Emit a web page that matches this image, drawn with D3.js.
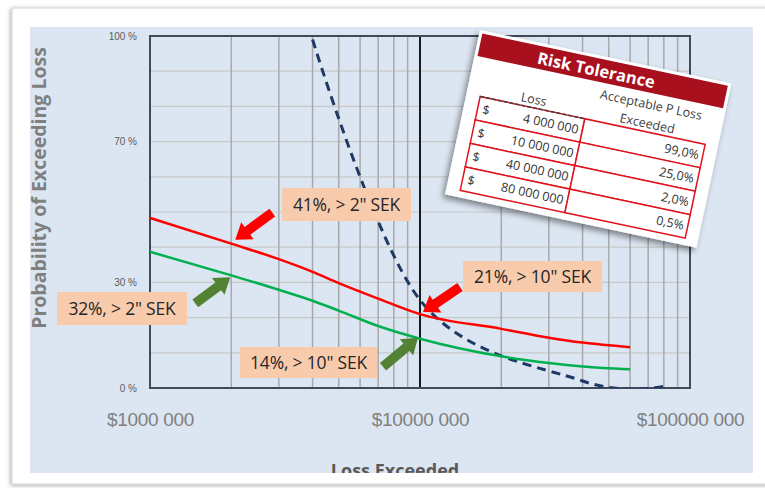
<!DOCTYPE html>
<html>
<head>
<meta charset="utf-8">
<script src="https://cdn.jsdelivr.net/npm/d3@7"></script>
<style>
  html, body { margin: 0; padding: 0; background: #ffffff; }
  svg { display: block; font-family: "Open Sans", "Liberation Sans", sans-serif; }
</style>
</head>
<body>
<script>
// ---- Data -------------------------------------------------------------
// Loss levels (SEK) at which the two exceedance curves are sampled
const lossLevels = [1e6, 2e6, 3e6, 4e6, 5e6, 7e6, 1e7, 2e7, 3e7, 4e7, 6e7];
// Probability of exceeding each loss level (%)
const redProb   = [48.3, 41, 36.6, 33, 29.8, 25.4, 21, 16.8, 14.3, 12.9, 11.6];
const greenProb = [38.7, 32, 27.9, 24.8, 22.0, 17.6, 14, 9.0, 7.1, 6.1, 5.3];

// Risk tolerance curve (table values)
const toleranceLoss = [4e6, 1e7, 4e7, 8e7];
const toleranceProb = [99, 25, 2, 0.5];

// Axis ticks
const xTickValues = [1e6, 1e7, 1e8];
const yTickValues = [0, 30, 70, 100];
const yGridValues = [0, 10, 20, 30, 40, 50, 60, 70, 80, 90, 100];

// Callouts: which series and loss level each one describes
const calloutSeries = ["red", "green", "red", "green"];
const calloutLoss   = [2e6, 2e6, 1e7, 1e7];

// ---- Layout -----------------------------------------------------------
const W = 765, H = 488;
const plot = { left: 150, right: 690, top: 36, bottom: 388 };
const colors = {
  panel: "#dce6f2", red: "#ff0000", green: "#00b050", navy: "#1f3864",
  arrowRed: "#ff0000", arrowGreen: "#548235", box: "#f8cbad",
  grid: "#a9a9a9", hgrid: "#c8c8c8", frame: "#3f4a5a"
};
// Callout boxes [x, y, w, h] and arrow tail vectors, in the same order as calloutSeries
const calloutBoxes = [[282, 188, 129, 33], [57, 292, 130, 33], [463, 261, 139, 31], [240, 347, 137, 31]];
const arrowTipNudge = [[4, -4], [-1, 2], [3, -2], [-2, -1]];
const arrowTail = [[37, -27], [-35, 26], [37, -25], [-35, 29]];

const svg = d3.select("body").append("svg").attr("width", W).attr("height", H);
const defs = svg.append("defs");

const frameShadow = defs.append("filter").attr("id", "frameShadow")
  .attr("x", "-5%").attr("y", "-5%").attr("width", "110%").attr("height", "110%");
frameShadow.append("feDropShadow").attr("dx", -1).attr("dy", 1).attr("stdDeviation", 2)
  .attr("flood-color", "#000").attr("flood-opacity", 0.35);

const cardShadow = defs.append("filter").attr("id", "cardShadow")
  .attr("x", "-10%").attr("y", "-10%").attr("width", "120%").attr("height", "125%");
cardShadow.append("feDropShadow").attr("dx", -2).attr("dy", 4).attr("stdDeviation", 3)
  .attr("flood-color", "#000").attr("flood-opacity", 0.45);

defs.append("clipPath").attr("id", "plotClip").append("rect")
  .attr("x", plot.left).attr("y", plot.top)
  .attr("width", plot.right - plot.left).attr("height", plot.bottom - plot.top);
defs.append("clipPath").attr("id", "panelClip").append("rect")
  .attr("x", 30).attr("y", 27).attr("width", 723).attr("height", 446);

// Outer white frame and light-blue chart panel
svg.append("rect").attr("x", 12).attr("y", 8).attr("width", 770).attr("height", 476)
  .attr("fill", "#ffffff").attr("stroke", "#d4d4d4").attr("filter", "url(#frameShadow)");
svg.append("rect").attr("x", 30).attr("y", 27).attr("width", 723).attr("height", 446)
  .attr("fill", colors.panel);

// ---- Scales -----------------------------------------------------------
const x = d3.scaleLog().domain([1e6, 1e8]).range([plot.left, plot.right]);
const y = d3.scaleLinear().domain([0, 100]).range([plot.bottom, plot.top]);

// Grid
const grid = svg.append("g");
grid.selectAll("line.h").data(yGridValues).join("line").attr("class", "h")
  .attr("x1", plot.left).attr("x2", plot.right)
  .attr("y1", d => y(d)).attr("y2", d => y(d))
  .attr("stroke", colors.hgrid).attr("stroke-width", 1.2);
grid.selectAll("line.v").data(x.ticks().filter(d => d > 1e6 && d < 1e8 && d !== 1e7)).join("line").attr("class", "v")
  .attr("x1", d => x(d)).attr("x2", d => x(d))
  .attr("y1", plot.top).attr("y2", plot.bottom)
  .attr("stroke", colors.grid).attr("stroke-width", 1.5);
// Decade line at 10 M
grid.append("line").attr("x1", x(1e7)).attr("x2", x(1e7))
  .attr("y1", plot.top).attr("y2", plot.bottom)
  .attr("stroke", "#1a1a1a").attr("stroke-width", 2);
// Plot border
svg.append("rect").attr("x", plot.left).attr("y", plot.top)
  .attr("width", plot.right - plot.left).attr("height", plot.bottom - plot.top)
  .attr("fill", "none").attr("stroke", colors.frame).attr("stroke-width", 2);

// Axes
const xAxis = svg.append("g").attr("transform", `translate(0,${plot.bottom + 21})`)
  .call(d3.axisBottom(x).tickValues(xTickValues).tickSize(0)
    .tickFormat(d => "$" + String(d / 1000) + " 000"));
xAxis.select(".domain").remove();
xAxis.selectAll("text").attr("fill", "#808080").attr("font-size", 19).attr("dy", "0.71em")
  .attr("letter-spacing", -0.3);

const yAxis = svg.append("g").attr("transform", `translate(${plot.left - 10},0)`)
  .call(d3.axisLeft(y).tickValues(yTickValues).tickSize(0).tickFormat(d => d + " %"));
yAxis.select(".domain").remove();
yAxis.selectAll("text").attr("fill", "#595959").attr("font-size", 10);

// Axis titles
svg.append("text").attr("transform", "translate(46,188) rotate(-90)")
  .attr("text-anchor", "middle").attr("font-size", 19.5).attr("font-weight", 700)
  .attr("fill", "#7f7f7f").text("Probability of Exceeding Loss");
svg.append("g").attr("clip-path", "url(#panelClip)")
  .append("text").attr("x", 395).attr("y", 477).attr("text-anchor", "middle")
  .attr("font-size", 18).attr("font-weight", 700).attr("fill", "#595959").text("Loss Exceeded");

// ---- Curves -----------------------------------------------------------
const line = d3.line().x(d => x(d[0])).y(d => y(d[1])).curve(d3.curveMonotoneX);
const curves = svg.append("g").attr("clip-path", "url(#plotClip)");
curves.append("path").datum(d3.zip(toleranceLoss, toleranceProb))
  .attr("d", d3.line().x(d => x(d[0])).y(d => y(d[1])).curve(d3.curveCardinal.tension(0)))
  .attr("fill", "none").attr("stroke", colors.navy).attr("stroke-width", 3)
  .attr("stroke-dasharray", "9 6");
curves.append("path").datum(d3.zip(lossLevels, greenProb)).attr("d", line)
  .attr("fill", "none").attr("stroke", colors.green).attr("stroke-width", 2.5);
curves.append("path").datum(d3.zip(lossLevels, redProb)).attr("d", line)
  .attr("fill", "none").attr("stroke", colors.red).attr("stroke-width", 2.5);

// ---- Callouts ---------------------------------------------------------
function probAt(series, loss) {
  const arr = series === "red" ? redProb : greenProb;
  return arr[lossLevels.indexOf(loss)];
}
function arrowPath(tip, tail) {
  const dx = tip[0] - tail[0], dy = tip[1] - tail[1];
  const L = Math.hypot(dx, dy), ux = dx / L, uy = dy / L, nx = -uy, ny = ux;
  const shaft = 4.8, head = 10.5, headLen = 15;
  const pt = (a, b) => [tail[0] + ux * a + nx * b, tail[1] + uy * a + ny * b];
  return "M" + [pt(0, -shaft), pt(L - headLen, -shaft), pt(L - headLen, -head), pt(L, 0),
    pt(L - headLen, head), pt(L - headLen, shaft), pt(0, shaft)].map(p => p.join(",")).join("L") + "Z";
}
const callouts = svg.append("g");
calloutSeries.forEach((s, i) => {
  const loss = calloutLoss[i];
  const p = probAt(s, loss);
  const tip = [x(loss) + arrowTipNudge[i][0], y(p) + arrowTipNudge[i][1]];
  const tail = [tip[0] + arrowTail[i][0], tip[1] + arrowTail[i][1]];
  callouts.append("path").attr("d", arrowPath(tip, tail))
    .attr("fill", s === "red" ? colors.arrowRed : colors.arrowGreen);
  const [bx, by, bw, bh] = calloutBoxes[i];
  callouts.append("rect").attr("x", bx).attr("y", by).attr("width", bw).attr("height", bh)
    .attr("fill", colors.box);
  callouts.append("text").attr("x", bx + bw / 2).attr("y", by + bh / 2)
    .attr("dy", "0.35em").attr("text-anchor", "middle").attr("font-size", 17.5)
    .attr("fill", "#262626").attr("letter-spacing", -0.2).text(`${p}%, > ${loss / 1e6}" SEK`);
});

// ---- Risk tolerance card ----------------------------------------------
const card = svg.append("g").attr("transform", "translate(480,30) rotate(12)");
card.append("rect").attr("width", 257).attr("height", 168).attr("fill", "#ffffff")
  .attr("filter", "url(#cardShadow)");
card.append("rect").attr("x", 3).attr("y", 3).attr("width", 251).attr("height", 23).attr("fill", "#a8101e");
card.append("text").attr("x", 122).attr("y", 15).attr("dy", "0.36em").attr("text-anchor", "middle")
  .attr("font-size", 16.5).attr("font-weight", 700).attr("fill", "#ffffff").text("Risk Tolerance");
card.append("text").attr("x", 67).attr("y", 61).attr("text-anchor", "middle")
  .attr("font-size", 12.5).attr("fill", "#404040").text("Loss");
card.append("text").attr("x", 183).attr("y", 42).attr("text-anchor", "middle")
  .attr("font-size", 12.5).attr("fill", "#404040").text("Acceptable P Loss");
card.append("text").attr("x", 183).attr("y", 61).attr("text-anchor", "middle")
  .attr("font-size", 12.5).attr("fill", "#404040").text("Exceeded");

const tbl = { x0: 14, x1: 121, x2: 244, top: 65, row: 24 };
const fmtLoss = d => d3.format(",")(d).replace(/,/g, " ");
const fmtProb = d => d3.format(".1f")(d).replace(".", ",") + "%";
toleranceLoss.forEach((v, i) => {
  const ry = tbl.top + i * tbl.row;
  card.append("rect").attr("x", tbl.x0).attr("y", ry).attr("width", tbl.x1 - tbl.x0).attr("height", tbl.row)
    .attr("fill", "#ffffff").attr("stroke", "#e0141e").attr("stroke-width", 1.5);
  card.append("rect").attr("x", tbl.x1).attr("y", ry).attr("width", tbl.x2 - tbl.x1).attr("height", tbl.row)
    .attr("fill", "#ffffff").attr("stroke", "#e0141e").attr("stroke-width", 1.5);
  card.append("text").attr("x", tbl.x0 + 5).attr("y", ry + tbl.row / 2).attr("dy", "0.35em")
    .attr("font-size", 12.5).attr("fill", "#333").text("$");
  card.append("text").attr("x", tbl.x1 - 4).attr("y", ry + tbl.row / 2).attr("dy", "0.35em")
    .attr("text-anchor", "end").attr("font-size", 12.5).attr("fill", "#333").text(fmtLoss(v));
  card.append("text").attr("x", tbl.x2 - 4).attr("y", ry + tbl.row / 2).attr("dy", "0.35em")
    .attr("text-anchor", "end").attr("font-size", 12.5).attr("fill", "#333").text(fmtProb(toleranceProb[i]));
});
// Dashed rule under the "Loss" heading
card.append("line").attr("x1", tbl.x0).attr("x2", tbl.x1).attr("y1", tbl.top).attr("y2", tbl.top)
  .attr("stroke", "#404040").attr("stroke-width", 1.5).attr("stroke-dasharray", "4 2");
</script>
</body>
</html>
